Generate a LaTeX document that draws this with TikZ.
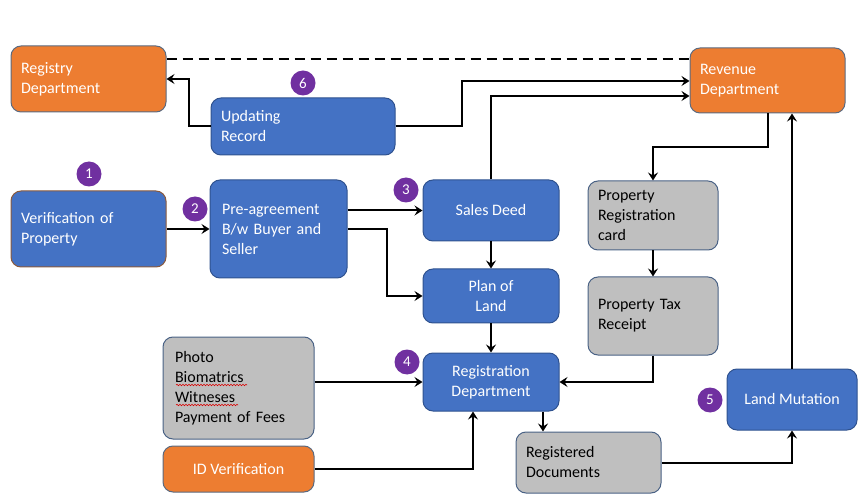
\documentclass[tikz,border=0pt]{standalone}
\usepackage{fontspec}
\setmainfont{Carlito}
\usetikzlibrary{arrows.meta,decorations.pathmorphing}
\definecolor{cblue}{HTML}{4472C4}
\definecolor{cblueb}{HTML}{2F528F}
\definecolor{corange}{HTML}{ED7D31}
\definecolor{corangeb}{HTML}{5B6A80}
\definecolor{cgray}{HTML}{BFBFBF}
\definecolor{cgrayb}{HTML}{4A6285}
\definecolor{cpurple}{HTML}{7030A0}
\definecolor{cbrown}{HTML}{8B5A3C}
\begin{document}
\begin{tikzpicture}[x=1pt,y=-1pt,
  font=\fontsize{16}{20}\selectfont,
  box/.style={rectangle,rounded corners=10pt,line width=1pt,inner ysep=2pt,align=center},
  bluebox/.style={box,fill=cblue,draw=cblueb,text=white},
  orangebox/.style={box,fill=corange,draw=corangeb,text=white},
  graybox/.style={box,fill=cgray,draw=cgrayb,text=black},
  leftbox/.style={inner xsep=10pt,text width=#1-20pt,align=left},
  num/.style={circle,fill=cpurple,text=white,minimum size=25pt,inner sep=0pt,font=\fontsize{15}{15}\selectfont},
  arr/.style={line width=2pt,-{Stealth[length=8pt,width=10pt,inset=3pt]}},
  dashline/.style={line width=2pt,dash pattern=on 10pt off 6pt}
]
\useasboundingbox (0,0) rectangle (864,502);

% boxes
\node[orangebox,leftbox=155pt,minimum width=155pt,minimum height=66pt] (reg) at (88.5,79) {Registry\\Department};
\node[orangebox,leftbox=155pt,minimum width=155pt,minimum height=65pt] (rev) at (767.5,80.5) {Revenue\\Department};
\node[bluebox,leftbox=184pt,minimum width=184pt,minimum height=57pt] (upd) at (303,126.5) {Updating\\Record};
\node[bluebox,draw=cbrown,leftbox=155pt,minimum width=155pt,minimum height=76pt] (ver) at (88.5,229) {Verification of\\Property};
\node[bluebox,inner xsep=12pt,text width=113pt,align=left,minimum width=137pt,minimum height=98pt] (pre) at (278.5,229) {Pre-agreement\\B/w Buyer and\\Seller};
\node[bluebox,minimum width=136pt,minimum height=61pt] (sd) at (491,210.5) {Sales Deed};
\node[bluebox,minimum width=136pt,minimum height=54pt] (pol) at (491,296) {Plan of\\Land};
\node[graybox,leftbox=130pt,minimum width=130pt,minimum height=69pt] (prc) at (653,215.5) {Property\\Registration\\card};
\node[graybox,leftbox=130pt,minimum width=130pt,minimum height=78pt] (ptr) at (653,316) {Property Tax\\Receipt};
\node[graybox,inner xsep=12pt,text width=127pt,align=left,minimum width=151pt,minimum height=102pt] (pho) at (238.5,388) {Photo\\Biomatrics\\Witneses\\Payment of Fees};
\node[orangebox,minimum width=151pt,minimum height=46pt] (idv) at (238.5,469) {ID Verification};
\node[bluebox,minimum width=136pt,minimum height=58pt] (rgd) at (491,382) {Registration\\Department};
\node[graybox,leftbox=145pt,minimum width=145pt,minimum height=61pt] (rdoc) at (588.5,462.5) {Registered\\Documents};
\node[bluebox,minimum width=130pt,minimum height=61pt] (lm) at (792,399.5) {Land Mutation};

% spell-check underlines
\draw[red!85!black,line width=0.6pt,decorate,decoration={snake,amplitude=0.7pt,segment length=3pt}] (176,385) -- (247,385);
\draw[red!85!black,line width=0.6pt,decorate,decoration={snake,amplitude=0.7pt,segment length=3pt}] (176,405) -- (238,405);

% numbers
\node[num] (n1) at (89,174) {1};
\node[num] (n2) at (195,209) {2};
\node[num] (n3) at (406,190) {3};
\node[num] (n4) at (407,362) {4};
\node[num] (n5) at (710,400) {5};
\node[num] (n6) at (303,83) {6};

% helper coordinates
\coordinate (yd) at (0,59);
\coordinate (k1) at (462,81);
\coordinate (k2) at (0,96);
\coordinate (k3) at (0,147);
\coordinate (k4) at (473,0);
\coordinate (k5) at (543,0);

% connectors
\draw[dashline] (reg.east|-yd) -- (rev.west|-yd);
\draw[arr] (upd.west) -- ++(-22,0) |- (reg.east);
\draw[arr] (upd.east) -| (k1) -- (rev.west|-k1);
\draw[arr] (sd.north) |- (rev.west|-k2);
\draw[arr] (rev.south) -- (rev.south|-k3) -| (prc.north);
\draw[arr] (lm.north) -- (lm.north|-rev.south);
\draw[arr] (ver.east) -- (pre.west);
\draw[arr] (pre.east|-sd.west) -- (sd.west);
\draw[arr] (pre.east) -- ++(39,0) |- (pol.west);
\draw[arr] (sd.south) -- (pol.north);
\draw[arr] (pol.south) -- (rgd.north);
\draw[arr] (prc.south) -- (ptr.north);
\draw[arr] (ptr.south) |- (rgd.east);
\draw[arr] (pho.east|-rgd.west) -- (rgd.west);
\draw[arr] (idv.east) -| (k4|-rgd.south);
\draw[arr] (k5|-rgd.south) -- (k5|-rdoc.north);
\draw[arr] (rdoc.east) -| (lm.south);
\end{tikzpicture}
\end{document}
